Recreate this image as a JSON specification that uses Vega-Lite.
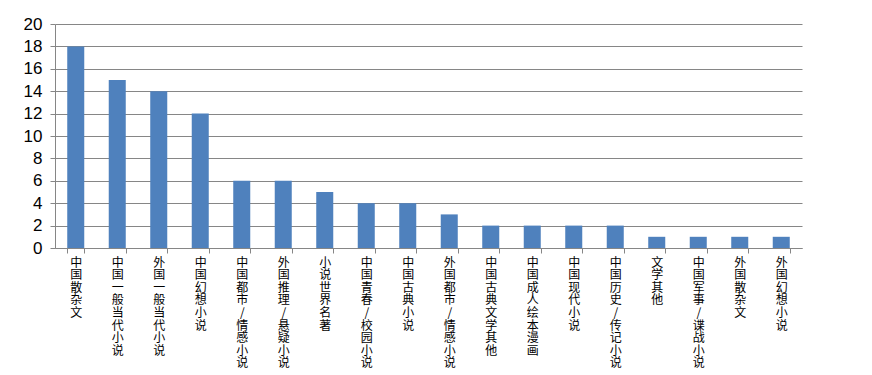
{
  "$schema": "https://vega.github.io/schema/vega-lite/v6.json",
  "autosize": "none",
  "width": 747,
  "height": 224,
  "padding": {"left": 55, "top": 24, "right": 70, "bottom": 127},
  "background": "white",
  "data": {"values": [
    {"cat": "中国散杂文", "v": 18},
    {"cat": "中国一般当代小说", "v": 15},
    {"cat": "外国一般当代小说", "v": 14},
    {"cat": "中国幻想小说", "v": 12},
    {"cat": "中国都市/情感小说", "v": 6},
    {"cat": "外国推理/悬疑小说", "v": 6},
    {"cat": "小说世界名著", "v": 5},
    {"cat": "中国青春/校园小说", "v": 4},
    {"cat": "中国古典小说", "v": 4},
    {"cat": "外国都市/情感小说", "v": 3},
    {"cat": "中国古典文学其他", "v": 2},
    {"cat": "中国成人绘本漫画", "v": 2},
    {"cat": "中国现代小说", "v": 2},
    {"cat": "中国历史/传记小说", "v": 2},
    {"cat": "文学其他", "v": 1},
    {"cat": "中国军事/谍战小说", "v": 1},
    {"cat": "外国散杂文", "v": 1},
    {"cat": "外国幻想小说", "v": 1}
  ]},
  "mark": {"type": "bar", "color": "#4F81BD"},
  "encoding": {
    "x": {
      "field": "cat", "type": "nominal", "sort": null, "title": null,
      "scale": {"paddingInner": 0.59, "paddingOuter": 0.295},
      "axis": {
        "labelAngle": 0, "labelExpr": "split(datum.label, '')",
        "labelFont": "Noto Sans CJK SC", "labelFontSize": 12, "labelLineHeight": 12.6,
        "labelColor": "black", "labelBaseline": "top", "labelPadding": 4,
        "tickBand": "extent", "tickSize": 5, "tickColor": "#868686",
        "domainColor": "#868686", "labelOverlap": false, "labelBound": false
      }
    },
    "y": {
      "field": "v", "type": "quantitative", "title": null,
      "scale": {"domain": [0, 20]},
      "axis": {
        "values": [0, 2, 4, 6, 8, 10, 12, 14, 16, 18, 20],
        "gridColor": "#868686", "domainColor": "#868686", "tickColor": "#868686",
        "tickSize": 5, "labelFont": "Liberation Sans", "labelFontSize": 17,
        "labelColor": "black", "labelPadding": 8
      }
    }
  },
  "config": {"view": {"stroke": null}}
}
